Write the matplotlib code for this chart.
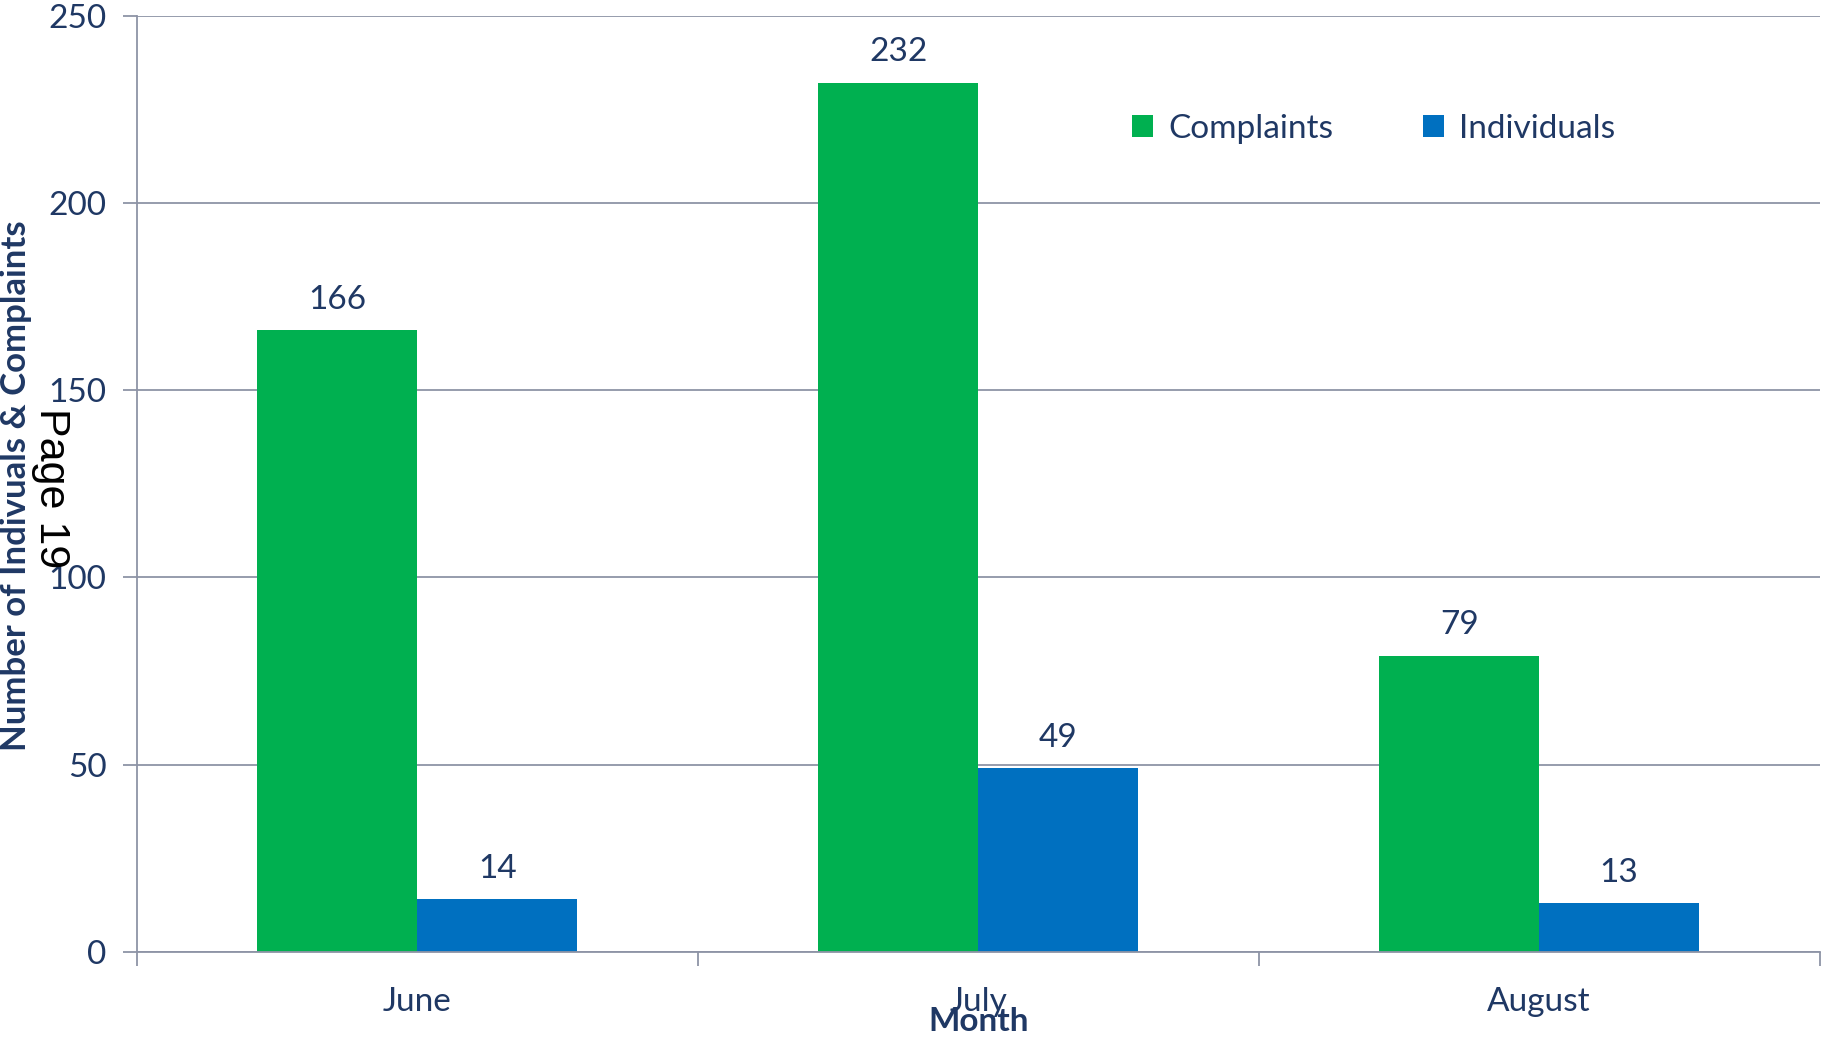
import numpy as np
import matplotlib.pyplot as plt

months = ["June", "July", "August"]
complaints = [166, 232, 79]
individuals = [14, 49, 13]

green = "#00B050"
blue = "#0070C0"
navy = "#1F3864"
grid = "#8E94A6"

plt.rcParams['font.family'] = ['Lato', 'DejaVu Sans']

fig = plt.figure(figsize=(18.25, 10.38), dpi=100)
ax = fig.add_axes([0.075, 0.083, 0.922, 0.902])

x = np.arange(len(months))
w = 0.285
b1 = ax.bar(x - w / 2, complaints, w, color=green, label="Complaints")
b2 = ax.bar(x + w / 2, individuals, w, color=blue, label="Individuals")

for bars, vals in [(b1, complaints), (b2, individuals)]:
    for r, v in zip(bars, vals):
        ax.annotate(str(v), (r.get_x() + r.get_width() / 2, v), xytext=(0, 22),
                    textcoords="offset points", ha="center", va="center",
                    fontsize=24, color=navy)

ax.set_xlim(-0.5, 2.5)
ax.set_ylim(0, 250)
ax.set_yticks(np.arange(0, 251, 50))
ax.yaxis.grid(True, color=grid, linewidth=1.3)
ax.set_axisbelow(True)
for s in ["top", "right"]:
    ax.spines[s].set_visible(False)
for s in ["left", "bottom"]:
    ax.spines[s].set_color(grid)
    ax.spines[s].set_linewidth(1.3)

# category boundary ticks on the x axis, labels drawn at centres
ax.set_xticks([-0.5, 0.5, 1.5, 2.5])
ax.set_xticklabels([])
ax.set_xticks(x, minor=True)
ax.set_xticklabels(months, minor=True, fontsize=24, color=navy)
ax.tick_params(axis="x", which="minor", length=0, pad=25)
ax.tick_params(axis="x", which="major", length=10, color=grid, width=1.3)
ax.tick_params(axis="y", length=10, color=grid, width=1.3, labelsize=24,
               labelcolor=navy, pad=12)

ax.legend(loc="center", bbox_to_anchor=(0.735, 0.879), ncol=2, frameon=False,
          fontsize=24, labelcolor=navy, handlelength=0.62, handleheight=0.62,
          columnspacing=2.7, handletextpad=0.45)

fig.text(0.009, 0.532, "Number of Indivuals & Complaints", rotation=90,
         ha="center", va="center", fontsize=25, fontweight="bold", color=navy)
fig.text(0.536, 0.016, "Month", ha="center", va="center", fontsize=24,
         fontweight="bold", color=navy)
fig.text(0.028, 0.53, "Page 19", rotation=-90, ha="center", va="center",
         fontsize=31, color="black", family="Liberation Sans")

fig.savefig("out.png", dpi=100)
